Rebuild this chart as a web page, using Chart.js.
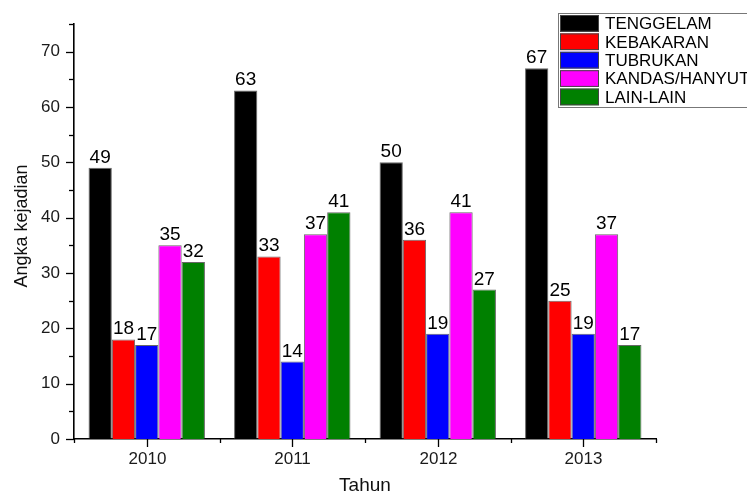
<!DOCTYPE html>
<html>
<head>
<meta charset="utf-8">
<script src="https://cdn.jsdelivr.net/npm/chart.js@4.4.1/dist/chart.umd.min.js"></script>
<style>
  html, body { margin: 0; padding: 0; background: #fff; }
  #wrap { width: 747px; height: 496px; }
</style>
</head>
<body>
<div id="wrap"><canvas id="mychart" width="747" height="496"></canvas></div>
<script>
// Incident counts per year, by type
const years = ['2010', '2011', '2012', '2013'];
const seriesNames = ['TENGGELAM', 'KEBAKARAN', 'TUBRUKAN', 'KANDAS/HANYUT', 'LAIN-LAIN'];
const tenggelam = [49, 63, 50, 67];
const kebakaran = [18, 33, 36, 25];
const tubrukan = [17, 14, 19, 19];
const kandas = [35, 37, 41, 37];
const lainLain = [32, 41, 27, 17];
const yTicks = [0, 10, 20, 30, 40, 50, 60, 70];

const colors = ['#000000', '#ff0000', '#0000ff', '#ff00ff', '#008000'];
const seriesValues = [tenggelam, kebakaran, tubrukan, kandas, lainLain];
const FONT = 'Arial, "Liberation Sans", sans-serif';

// ticks, value labels, axis titles and the boxed legend
const decorations = {
    id: 'decorations',
    afterDatasetsDraw(chart) {
        const ctx = chart.ctx;
        const xs = chart.scales.x;
        const ys = chart.scales.y;
        const area = chart.chartArea;
        ctx.save();
        ctx.strokeStyle = '#000';
        ctx.lineWidth = 1.3;

        // y ticks: major every 10, minor every 5
        for (let v = 0; v <= 75; v += 5) {
            const py = Math.round(ys.getPixelForValue(v)) + 0.5;
            const len = v % 10 === 0 ? 8 : 5;
            ctx.beginPath();
            ctx.moveTo(area.left - len, py);
            ctx.lineTo(area.left, py);
            ctx.stroke();
        }
        ctx.fillStyle = '#1a1a1a';
        ctx.font = '17px ' + FONT;
        ctx.textAlign = 'right';
        ctx.textBaseline = 'middle';
        yTicks.forEach(v => {
            ctx.fillText(String(v), area.left - 14, ys.getPixelForValue(v));
        });

        // x ticks: major at categories, minor at boundaries
        const step = xs.getPixelForValue(1) - xs.getPixelForValue(0);
        years.forEach((y, i) => {
            const px = Math.round(xs.getPixelForValue(i)) + 0.5;
            ctx.beginPath();
            ctx.moveTo(px, area.bottom);
            ctx.lineTo(px, area.bottom + 8);
            ctx.stroke();
            ctx.textAlign = 'center';
            ctx.textBaseline = 'middle';
            ctx.fillText(y, px, area.bottom + 20);
        });
        for (let i = 0; i <= years.length; i++) {
            const px = Math.round(xs.getPixelForValue(0) - step / 2 + i * step) + 0.5;
            ctx.beginPath();
            ctx.moveTo(px, area.bottom);
            ctx.lineTo(px, area.bottom + 4);
            ctx.stroke();
        }

        // values above each bar
        ctx.fillStyle = '#000';
        ctx.font = '19px ' + FONT;
        ctx.textAlign = 'center';
        ctx.textBaseline = 'alphabetic';
        chart.data.datasets.forEach((ds, di) => {
            chart.getDatasetMeta(di).data.forEach((bar, i) => {
                ctx.fillText(String(ds.data[i]), bar.x, bar.y - 5);
            });
        });

        // axis titles
        ctx.fillStyle = '#111';
        ctx.font = '19px ' + FONT;
        ctx.textAlign = 'center';
        ctx.textBaseline = 'middle';
        ctx.fillText('Tahun', (area.left + area.right) / 2, 486);
        ctx.font = '18px ' + FONT;
        ctx.save();
        ctx.translate(22, 226);
        ctx.rotate(-Math.PI / 2);
        ctx.fillText('Angka kejadian', 0, 0);
        ctx.restore();

        // legend box
        const lx = 558, ly = 13, rowH = 18.4;
        ctx.fillStyle = '#fff';
        ctx.fillRect(lx, ly, 747 - lx, 95);
        ctx.strokeStyle = '#777';
        ctx.lineWidth = 1;
        ctx.strokeRect(lx + 0.5, ly + 0.5, 747 - lx + 5, 94);
        ctx.font = '17px ' + FONT;
        ctx.textAlign = 'left';
        ctx.textBaseline = 'middle';
        chart.data.datasets.forEach((ds, di) => {
            const ry = ly + 2 + di * rowH;
            ctx.fillStyle = ds.backgroundColor;
            ctx.fillRect(lx + 2, ry, 39, 16.7);
            ctx.strokeStyle = '#444';
            ctx.strokeRect(lx + 2.5, ry + 0.5, 38, 15.7);
            ctx.fillStyle = '#000';
            ctx.fillText(ds.label, lx + 47, ry + 9.5);
        });
        ctx.restore();
    }
};

const ctx = document.getElementById('mychart').getContext('2d');
const myChart = new Chart(ctx, {
    type: 'bar',
    data: {
        labels: years,
        datasets: seriesNames.map((name, i) => ({
            label: name,
            data: seriesValues[i],
            backgroundColor: colors[i],
            borderColor: 'rgba(40, 40, 40, 0.7)',
            borderWidth: 1,
            borderSkipped: 'bottom',
            categoryPercentage: 0.80,
            barPercentage: 1.0
        }))
    },
    options: {
        responsive: false,
        animation: false,
        layout: { padding: { top: 24, right: 91, left: 0, bottom: 0 } },
        plugins: {
            legend: { display: false },
            tooltip: { enabled: false }
        },
        scales: {
            x: {
                grid: { display: false },
                border: { display: true, color: '#000', width: 1.6 },
                ticks: { display: false },
                afterFit(scale) { scale.height = 57; }
            },
            y: {
                min: 0,
                max: 75,
                grid: { display: false },
                border: { display: true, color: '#000', width: 1.6 },
                ticks: { display: false, stepSize: 10 },
                afterFit(scale) { scale.width = 74; }
            }
        }
    },
    plugins: [decorations]
});
</script>
</body>
</html>
